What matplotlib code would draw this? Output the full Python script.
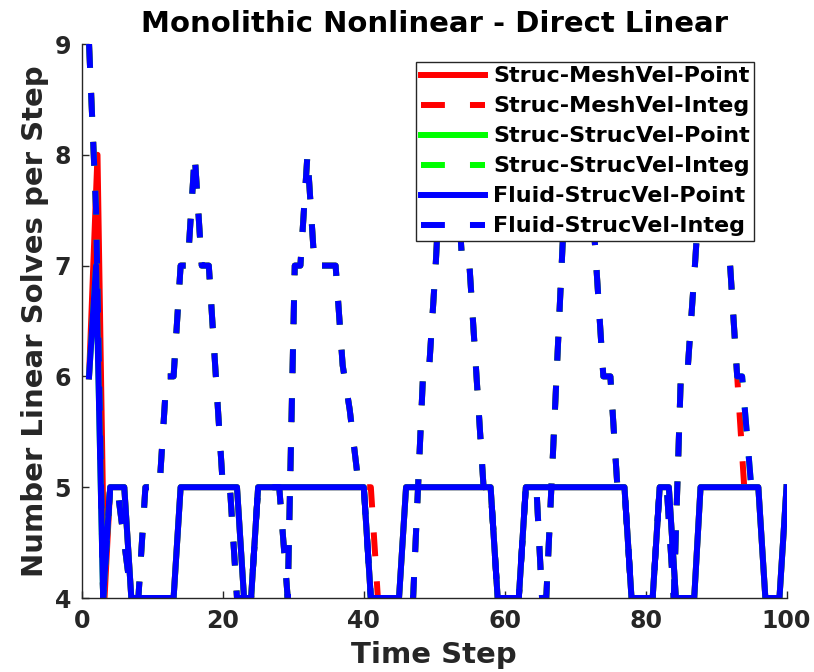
import matplotlib.pyplot as plt

# time step / linear solves per step, one pair of lists per run
mesh_point_t = [1, 2.2, 3.2, 4, 6, 7, 13, 14, 22, 23, 24, 25, 40, 41, 45, 46, 58, 59, 62, 63,
                77, 78, 81, 82, 83.3, 84.3, 86.9, 87.8, 96, 97, 99, 100]
mesh_point_y = [6, 8, 4, 5, 5, 4, 4, 5, 5, 4, 4, 5, 5, 4, 4, 5, 5, 4, 4, 5,
                5, 4, 4, 5, 5, 4, 4, 5, 5, 4, 4, 5]

mesh_integ_t = [1, 2, 3, 4, 5, 6, 7, 8, 9, 10, 11, 12, 13, 14, 15, 16, 17, 18, 19, 20,
                21, 22, 24, 25, 28, 29.2, 30.2, 31, 32, 33, 36, 37, 38, 39.3, 41, 42, 47, 48.4, 49.2, 50.2,
                51, 53, 54, 55, 57, 58, 59, 62, 63, 64.5, 65.3, 65.9, 68.3, 69, 72, 74, 75, 76, 77, 78,
                81, 82, 83, 84, 85, 85.9, 87, 88, 91, 93, 94]
mesh_integ_y = [9, 7.5, 4, 5, 5, 4.5, 4, 4, 5, 5, 5, 6, 6, 7, 7, 8, 7, 7, 6, 5,
                5, 4, 4, 5, 5, 4, 7, 7, 8, 7, 7, 6.1, 5.7, 5, 5, 4, 4, 6, 6, 7,
                8, 8, 7, 7, 5, 5, 4, 4, 5, 5, 4, 4, 7.3, 8, 8, 6, 6, 5, 5, 4,
                4, 5, 5, 4, 6, 6, 7, 8, 8, 6, 5]

fluid_point_t = [1, 2, 3, 4, 6, 7, 13, 14, 22, 23, 24, 25, 40, 41, 45, 46, 58, 59, 62, 63,
                 77, 78, 81, 82, 83.3, 84.3, 86.9, 87.8, 96, 97, 99, 100]
fluid_point_y = [6, 7, 4, 5, 5, 4, 4, 5, 5, 4, 4, 5, 5, 4, 4, 5, 5, 4, 4, 5,
                 5, 4, 4, 5, 5, 4, 4, 5, 5, 4, 4, 5]

fluid_integ_t = [1, 2, 3, 4, 5, 6, 7, 8, 9, 10, 11, 12, 13, 14, 15, 16, 17, 18, 19, 20,
                 21, 22, 24, 25, 28, 29.2, 30.2, 31, 32, 33, 36, 37, 38, 39.3, 40, 41, 47, 48.4, 49.2, 50.2,
                 51, 53, 54, 55, 57, 58, 59, 62, 63, 64.5, 65.3, 65.9, 68.3, 69, 72, 74, 75, 76, 77, 78,
                 81, 82, 83, 84, 85, 85.9, 87, 88, 91, 93, 93.7, 95]
fluid_integ_y = [9, 7.5, 4, 5, 5, 4.5, 4, 4, 5, 5, 5, 6, 6, 7, 7, 8, 7, 7, 6, 5,
                 5, 4, 4, 5, 5, 4, 7, 7, 8, 7, 7, 6.1, 5.7, 5, 5, 4, 4, 6, 6, 7,
                 8, 8, 7, 7, 5, 5, 4, 4, 5, 5, 4, 4, 7.3, 8, 8, 6, 6, 5, 5, 4,
                 4, 5, 5, 4, 6, 6, 7, 8, 8, 6, 6, 5]

# structure-velocity runs give the same counts as the fluid ones
strucvel_point_t, strucvel_point_y = fluid_point_t, fluid_point_y
strucvel_integ_t, strucvel_integ_y = fluid_integ_t, fluid_integ_y

dash = (0, (4.0, 4.2))
lw = 4.3
axcol = '#262626'

fig = plt.figure(figsize=(8.14, 6.72), dpi=100)
ax = fig.add_axes([82 / 814, 74 / 672, 704.5 / 814, 554 / 672])

ax.plot(mesh_point_t, mesh_point_y, color='#ff0000', lw=lw, label='Struc-MeshVel-Point')
ax.plot(mesh_integ_t, mesh_integ_y, color='#ff0000', lw=lw, ls=dash, label='Struc-MeshVel-Integ')
ax.plot(strucvel_point_t, strucvel_point_y, color='#00ff00', lw=lw, label='Struc-StrucVel-Point')
ax.plot(strucvel_integ_t, strucvel_integ_y, color='#00ff00', lw=lw, ls=dash, label='Struc-StrucVel-Integ')
ax.plot(fluid_point_t, fluid_point_y, color='#0000ff', lw=lw, label='Fluid-StrucVel-Point')
ax.plot(fluid_integ_t, fluid_integ_y, color='#0000ff', lw=lw, ls=dash, label='Fluid-StrucVel-Integ')

ax.set_xlim(0, 100)
ax.set_ylim(4, 9)
ax.set_xticks([0, 20, 40, 60, 80, 100])
ax.set_yticks([4, 5, 6, 7, 8, 9])
ax.spines['top'].set_visible(False)
ax.spines['right'].set_visible(False)
for s in ('left', 'bottom'):
    ax.spines[s].set_color(axcol)
    ax.spines[s].set_linewidth(1.0)
ax.tick_params(direction='in', length=5, width=1, labelsize=17, pad=8, colors=axcol)
for lab in ax.get_xticklabels() + ax.get_yticklabels():
    lab.set_fontweight('bold')

ax.set_title('Monolithic Nonlinear - Direct Linear', fontsize=21, fontweight='bold', pad=9)
ax.set_xlabel('Time Step', fontsize=21, fontweight='bold', color=axcol, labelpad=6)
ax.set_ylabel('Number Linear Solves per Step', fontsize=21, fontweight='bold', color=axcol, labelpad=4)

leg = ax.legend(loc='upper right', bbox_to_anchor=(0.954, 0.9675), prop={'weight': 'bold', 'size': 16},
                handlelength=2.9, handletextpad=0.35, labelspacing=0.45, borderpad=0.2,
                borderaxespad=0, fancybox=False, framealpha=1, edgecolor=axcol)
leg.get_frame().set_linewidth(1.0)

fig.savefig('out.png', dpi=100)
